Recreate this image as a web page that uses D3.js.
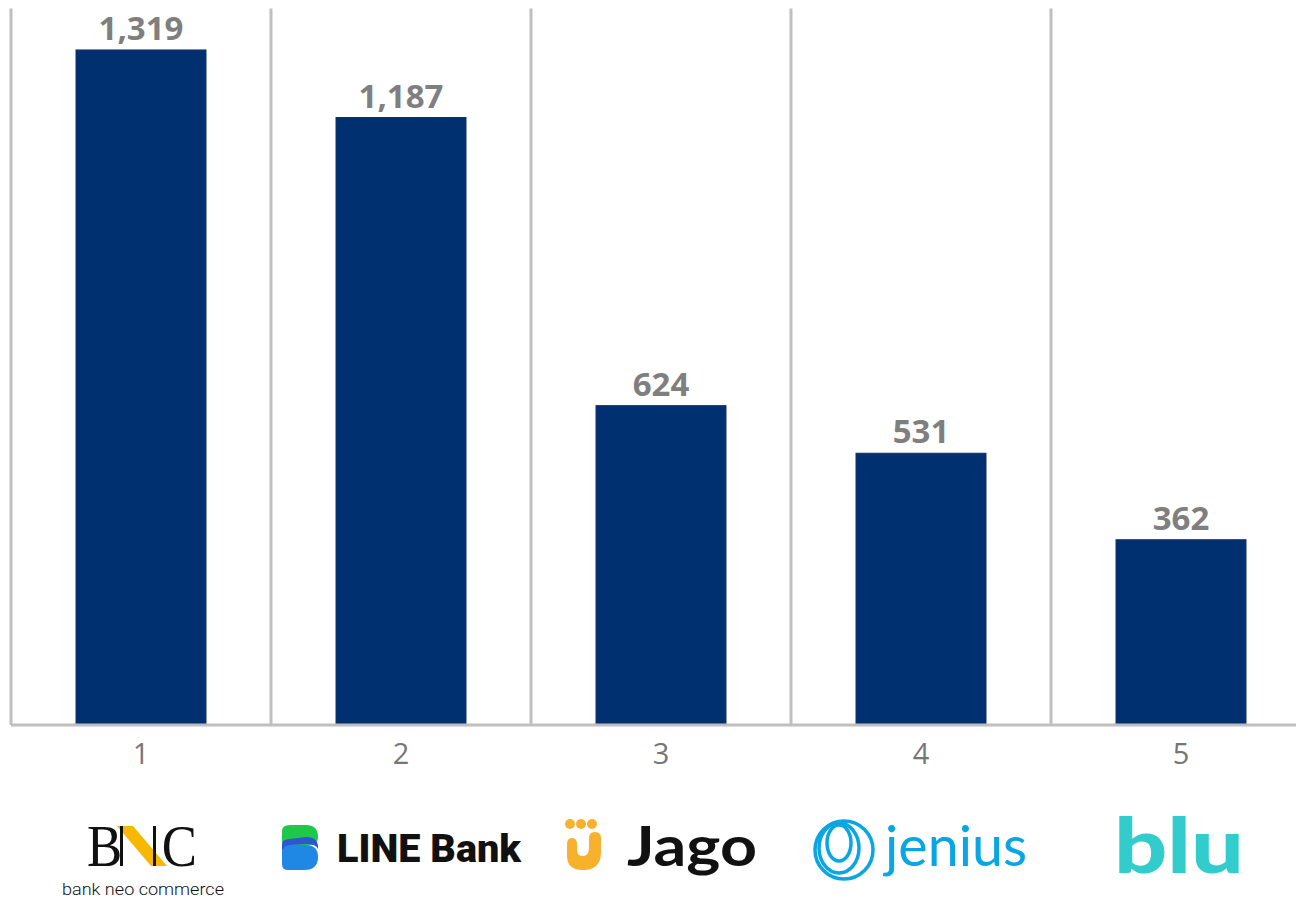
<!DOCTYPE html>
<html><head><meta charset="utf-8">
<script src="https://cdn.jsdelivr.net/npm/d3@7"></script>
<style>body{margin:0;background:#fff}svg{display:block}</style>
</head><body>
<script>
const categories = ["1","2","3","4","5"];
const values = [1319, 1187, 624, 531, 362];
const brands = ["bank neo commerce","LINE Bank","Jago","jenius","blu"];
const yMax = 1400;

const W = 1296, H = 902;
const svg = d3.select("body").append("svg").attr("width", W).attr("height", H);

const x = d3.scaleBand().domain(categories).range([11, 1311]).paddingInner(0.5).paddingOuter(0.25);
const y = d3.scaleLinear().domain([0, yMax]).range([725, 8.5]);
const grid = "#bfbfbf";

// vertical separators between categories
svg.selectAll(".sep").data(categories).join("line")
  .attr("x1", c => x(c) - (x.step() - x.bandwidth())/2)
  .attr("x2", c => x(c) - (x.step() - x.bandwidth())/2)
  .attr("y1", y(yMax)).attr("y2", y(0))
  .attr("stroke", grid).attr("stroke-width", 3);

// bars
svg.selectAll(".bar").data(values).join("rect")
  .attr("x", (d,i) => x(categories[i]))
  .attr("width", x.bandwidth())
  .attr("y", d => y(d))
  .attr("height", d => y(0) - y(d))
  .attr("fill", "#003070")
  .attr("stroke", "#14336a").attr("stroke-width", 1);

// baseline axis
const axis = d3.axisBottom(x).tickSize(0).tickPadding(18);
const ag = svg.append("g").attr("transform", `translate(0,${y(0)})`).call(axis);
ag.select(".domain").attr("stroke", grid).attr("stroke-width", 3).attr("d", "M11,0H1296");
ag.selectAll("text").attr("font-family", "Open Sans, sans-serif").attr("font-size", 29)
  .attr("fill", "#767676").attr("dy", "0.71em");

// value labels
svg.selectAll(".val").data(values).join("text")
  .attr("x", (d,i) => x(categories[i]) + x.bandwidth()/2)
  .attr("y", d => y(d) - 10)
  .attr("text-anchor", "middle")
  .attr("font-family", "Open Sans, sans-serif").attr("font-weight", 700)
  .attr("font-size", 33).attr("fill", "#7f7f7f")
  .text(d => d3.format(",")(d));

// ---- brand logos ----
const cx = i => x(categories[i]) + x.bandwidth()/2;

// 1. BNC
const g1 = svg.append("g");
g1.append("polygon").attr("points", `${cx(0)-24},826 ${cx(0)-8},826 ${cx(0)+26},866 ${cx(0)+10},866`).attr("fill", "#f6b800");
g1.append("text").attr("x", cx(0)-54).attr("y", 866)
  .attr("font-family", "Liberation Serif, serif").attr("font-size", 60)
  .attr("textLength", 110).attr("lengthAdjust", "spacingAndGlyphs")
  .attr("fill", "#111").attr("xml:space","preserve").text("B   C");
g1.append("rect").attr("x", cx(0)-21).attr("y", 826).attr("width", 3).attr("height", 40).attr("fill", "#111");
g1.append("rect").attr("x", cx(0)+12).attr("y", 826).attr("width", 3).attr("height", 40).attr("fill", "#111");
g1.append("text").attr("x", cx(0)+2).attr("y", 895).attr("text-anchor", "middle")
  .attr("font-family", "Roboto, sans-serif").attr("font-weight", 300).attr("font-size", 17)
  .attr("textLength", 162).attr("lengthAdjust", "spacingAndGlyphs")
  .attr("fill", "#111").text(brands[0]);

// 2. LINE Bank
const g2 = svg.append("g").attr("transform", "translate(282,825)");
g2.append("path").attr("d", "M0,6 Q0,0 8,0 L24,0 Q36,0 36,12 Q36,18 30,20 L0,22 Z").attr("fill", "#1ec84a");
g2.append("path").attr("d", "M0,26 Q0,20 8,20 L24,20 Q36,20 36,32 Q36,45 22,45 L6,45 Q0,45 0,39 Z").attr("fill", "#1f88e5");
g2.append("path").attr("d", "M0,20 Q0,14 8,14 L24,12 Q36,12 36,22 L36,24 Q34,19 24,19 L8,20 Q2,20 0,26 Z").attr("fill", "#2f55d4");
svg.append("text").attr("x", 337).attr("y", 862)
  .attr("font-family", "Roboto, sans-serif").attr("font-weight", 900).attr("font-size", 39)
  .attr("textLength", 184).attr("lengthAdjust", "spacingAndGlyphs")
  .attr("fill", "#111").text(brands[1]);

// 3. Jago
const g3 = svg.append("g").attr("transform", "translate(565,818)");
[5, 16, 27].forEach(dx => g3.append("circle").attr("cx", dx).attr("cy", 6).attr("r", 5).attr("fill", "#f8b12c"));
g3.append("path").attr("d", "M2,26 Q2,20 7,20 Q12,20 12,26 L12,32 Q12,38 18,38 Q24,38 24,30 L24,20 Q24,14 30,14 Q36,14 36,20 L36,34 Q36,52 18,52 Q2,52 2,38 Z").attr("fill", "#f8b12c");
svg.append("text").attr("x", 627).attr("y", 866)
  .attr("font-family", "Lato, sans-serif").attr("font-weight", 700).attr("font-size", 56)
  .attr("textLength", 130).attr("lengthAdjust", "spacingAndGlyphs")
  .attr("fill", "#111").text(brands[2]);

// 4. Jenius
const g4 = svg.append("g").attr("transform", "translate(844,850)").attr("fill", "none").attr("stroke", "#0aa5e3").attr("stroke-width", 3.5);
g4.append("circle").attr("r", 29);
g4.append("ellipse").attr("cx", -5).attr("cy", -2).attr("rx", 20).attr("ry", 25);
g4.append("ellipse").attr("cx", -5).attr("cy", -7).attr("rx", 12).attr("ry", 18);
svg.append("text").attr("x", 885).attr("y", 866)
  .attr("font-family", "Lato, sans-serif").attr("font-weight", 400).attr("font-size", 56)
  .attr("textLength", 142).attr("lengthAdjust", "spacingAndGlyphs")
  .attr("fill", "#0aa5e3").text(brands[3]);

// 5. blu
svg.append("text").attr("x", 1114).attr("y", 873)
  .attr("font-family", "Lato, sans-serif").attr("font-weight", 900).attr("font-size", 76)
  .attr("textLength", 130).attr("lengthAdjust", "spacingAndGlyphs")
  .attr("fill", "#33cccc").text(brands[4]);
</script>
</body></html>
